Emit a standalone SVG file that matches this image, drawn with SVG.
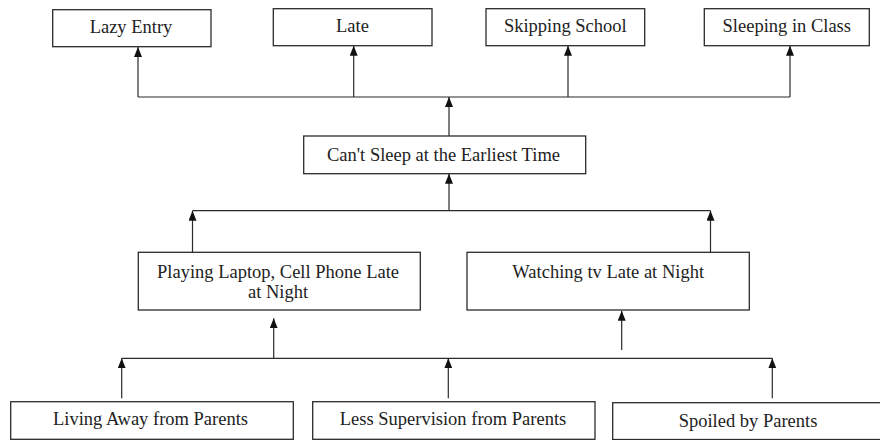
<svg xmlns="http://www.w3.org/2000/svg" width="880" height="440" viewBox="0 0 880 440">
<style>
.box{fill:#fff;stroke:#2b2b2b;stroke-width:1.3}
.lbl{fill:#222;text-anchor:middle}
.ln{fill:none;stroke:#2b2b2b;stroke-width:1.2}
</style>
<defs>
<marker id="ah" viewBox="0 0 10 8" refX="10" refY="4" markerWidth="10" markerHeight="8" markerUnits="userSpaceOnUse" orient="auto">
<path d="M0,0 L10,4 L0,8 z" fill="#111"/>
</marker>
</defs>
<rect width="880" height="440" fill="#fff"/>
<g id="connectors">
<path class="ln" d="M138,97 H790"/>
<path class="ln" d="M138,97 V47" marker-end="url(#ah)"/>
<path class="ln" d="M353.7,97 V45.7" marker-end="url(#ah)"/>
<path class="ln" d="M568,97 V45.7" marker-end="url(#ah)"/>
<path class="ln" d="M790,97 V45.7" marker-end="url(#ah)"/>
<path class="ln" d="M449,136 V97" marker-end="url(#ah)"/>
<path class="ln" d="M192.5,210.7 H710.5"/>
<path class="ln" d="M449,210.7 V173.7" marker-end="url(#ah)"/>
<path class="ln" d="M192.5,252.3 V210.7" marker-end="url(#ah)"/>
<path class="ln" d="M710.5,252.3 V210.7" marker-end="url(#ah)"/>
<path class="ln" d="M121.7,358.3 H772.3"/>
<path class="ln" d="M273.7,358.3 V318.3" marker-end="url(#ah)"/>
<path class="ln" d="M621.7,350 V310.7" marker-end="url(#ah)"/>
<path class="ln" d="M121.7,398.3 V358.3" marker-end="url(#ah)"/>
<path class="ln" d="M448.3,398.3 V358.3" marker-end="url(#ah)"/>
<path class="ln" d="M772.3,398.3 V358.3" marker-end="url(#ah)"/>
</g>
<g font-family="Liberation Serif, serif" font-size="18.5">
<g id="lazy-entry">
<rect class="box" x="52.7" y="9.7" width="158.3" height="37"/>
<text class="lbl" x="131" y="33">Lazy Entry</text>
</g>
<g id="late">
<rect class="box" x="273.3" y="8.7" width="158.7" height="37"/>
<text class="lbl" x="352.5" y="32.3">Late</text>
</g>
<g id="skipping-school">
<rect class="box" x="486" y="8.7" width="158.7" height="37"/>
<text class="lbl" x="565.3" y="32.3">Skipping School</text>
</g>
<g id="sleeping-in-class">
<rect class="box" x="704.3" y="8.7" width="165" height="37"/>
<text class="lbl" x="786.8" y="32">Sleeping in Class</text>
</g>
<g id="cant-sleep">
<rect class="box" x="303.7" y="136" width="282" height="37.7"/>
<text class="lbl" x="443.5" y="161">Can't Sleep at the Earliest Time</text>
</g>
<g id="playing-laptop">
<rect class="box" x="138.3" y="252.3" width="282" height="57.7"/>
<text class="lbl" x="278" y="278.3">Playing Laptop, Cell Phone Late</text>
<text class="lbl" x="278" y="297.7">at Night</text>
</g>
<g id="watching-tv">
<rect class="box" x="467" y="252.3" width="282.3" height="57.7"/>
<text class="lbl" x="608.2" y="278.3">Watching tv Late at Night</text>
</g>
<g id="living-away">
<rect class="box" x="10.7" y="401.7" width="282.6" height="37.6"/>
<text class="lbl" x="150.5" y="425">Living Away from Parents</text>
</g>
<g id="less-supervision">
<rect class="box" x="312.7" y="401.7" width="282.3" height="37.6"/>
<text class="lbl" x="453" y="425">Less Supervision from Parents</text>
</g>
<g id="spoiled">
<rect class="box" x="612.7" y="402.7" width="272" height="36.8"/>
<text class="lbl" x="748" y="427.3">Spoiled by Parents</text>
</g>
</g>
</svg>
